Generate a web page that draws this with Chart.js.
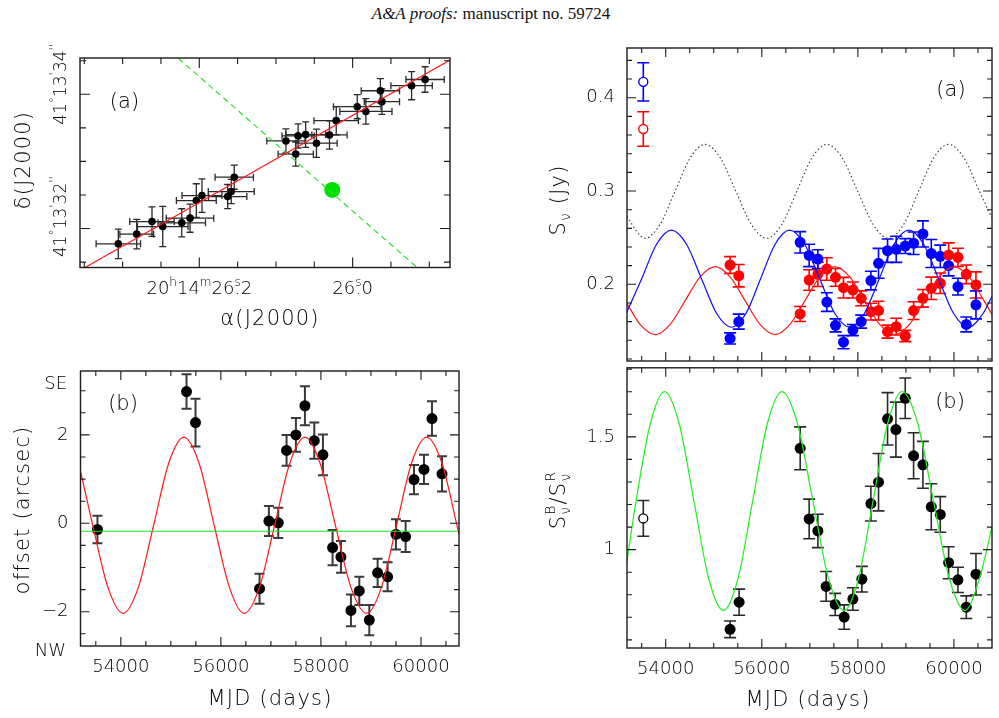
<!DOCTYPE html>
<html>
<head>
<meta charset="utf-8">
<script src="https://cdn.jsdelivr.net/npm/chart.js@4.4.1/dist/chart.umd.min.js"></script>
<style>
  html, body { margin: 0; padding: 0; background: #fff; }
  #page { position: relative; width: 999px; height: 718px; overflow: hidden; background: #fff; }
  #page canvas { position: absolute; }
  #hdr { position: absolute; left: 0; top: 4px; width: 982px; text-align: center;
         font: 17px "Liberation Serif", serif; color: #111; }
</style>
</head>
<body>
<div id="page">
  <div id="hdr"><i>A&amp;A proofs:</i> manuscript no. 59724</div>
  <canvas id="sky" width="460" height="300" style="left:0;top:40px"></canvas>
  <canvas id="offs" width="470" height="358" style="left:0;top:360px"></canvas>
  <canvas id="flux" width="459" height="330" style="left:540px;top:40px"></canvas>
  <canvas id="ratio" width="459" height="356" style="left:540px;top:362px"></canvas>
</div>
<script>
/* ---------------------------------------------------------
   Data
--------------------------------------------------------- */

// top-left: positions on the sky (RA seconds past 20h14m, Dec arcsec past 41°13')
const raSec = [26.3056, 26.2816, 26.2617, 26.2477, 26.2229, 26.2121, 26.2039, 26.1965, 26.1630, 26.1583, 26.1544, 26.0870,
               26.0742, 26.0711, 26.0613, 26.0472, 26.0302, 26.0214, 25.9940, 25.9827, 25.9638, 25.9618, 25.9231, 25.9055];
const raErr = [0.029, 0.022, 0.029, 0.033, 0.031, 0.031, 0.026, 0.026, 0.025, 0.030, 0.025, 0.025,
               0.023, 0.021, 0.026, 0.027, 0.023, 0.029, 0.031, 0.034, 0.025, 0.023, 0.027, 0.025];
const decSec = [31.772, 31.917, 32.104, 32.030, 32.085, 32.155, 32.417, 32.491, 32.476, 32.551, 32.765, 33.305,
                33.109, 33.380, 33.399, 33.271, 33.394, 33.607, 33.815, 33.744, 34.052, 33.890, 34.128, 34.220];
const decErr = [0.22, 0.22, 0.22, 0.30, 0.21, 0.21, 0.25, 0.25, 0.18, 0.18, 0.18, 0.18,
                0.18, 0.18, 0.19, 0.21, 0.21, 0.21, 0.18, 0.19, 0.18, 0.19, 0.21, 0.19];
const fitRa = [26.349, 25.873], fitDec = [31.42, 34.51];
const perpRa = [26.2274, 25.9153], perpDec = [34.536, 31.414];
const centreRa = [26.0266], centreDec = [32.576];

// bottom-left: offset along the jet
const offMjd = [53533, 55313, 55493, 56773, 56960, 57147, 57313, 57500, 57680, 57867, 58040, 58233,
                58400, 58600, 58767, 58967, 59133, 59333, 59500, 59693, 59860, 60060, 60220, 60420];
const offVal = [-0.14, 2.98, 2.28, -1.48, 0.05, 0.01, 1.65, 2.00, 2.66, 1.87, 1.55, -0.55,
                -0.76, -1.97, -1.53, -2.19, -1.12, -1.21, -0.25, -0.30, 0.99, 1.22, 2.37, 1.12];
const offErr = [0.31, 0.39, 0.54, 0.34, 0.34, 0.34, 0.35, 0.38, 0.44, 0.41, 0.46, 0.40,
                0.36, 0.36, 0.32, 0.34, 0.32, 0.33, 0.34, 0.35, 0.33, 0.33, 0.39, 0.40];
const offModelMjd = [53200, 53440, 53743, 54047, 54350, 54654, 54957, 55260, 55564, 55867, 56170, 56467, 56770, 57073,
                     57377, 57680, 57983, 58290, 58600, 58913, 59210, 59510, 59810, 60113, 60420, 60720, 60760];
const offModelVal = [1.15, -0.05, -1.45, -2.04, -1.45, -0.05, 1.36, 1.95, 1.36, -0.05, -1.45, -2.04, -1.45, -0.05,
                     1.36, 1.95, 1.36, -0.05, -1.45, -2.04, -1.45, -0.05, 1.36, 1.95, 1.36, -0.05, -0.25];
const offZero = [-0.18, -0.18];

// right: flux densities of the two components and their ratio
const fluxMjd = [55340, 55521, 56798, 56986, 57167, 57354, 57535, 57701, 57896, 58069, 58271, 58430,
                 58618, 58798, 58986, 59160, 59354, 59528, 59715, 59889, 60083, 60257, 60458];
const blueFlux = [0.142, 0.160, 0.245, 0.231, 0.227, 0.181, 0.156, 0.138, 0.151, 0.160, 0.204, 0.2225,
                  0.236, 0.2375, 0.241, 0.244, 0.254, 0.233, 0.230, 0.220, 0.1975, 0.157, 0.178];
const blueErr = [0.006, 0.008, 0.0115, 0.012, 0.010, 0.010, 0.007, 0.007, 0.006, 0.007, 0.010, 0.016,
                 0.0125, 0.014, 0.008, 0.012, 0.014, 0.015, 0.012, 0.011, 0.009, 0.008, 0.015];
const redFlux = [0.2207, 0.2093, 0.1682, 0.2046, 0.2107, 0.2164, 0.2075, 0.1964, 0.1939, 0.185, 0.1707, 0.1718,
                 0.1493, 0.1546, 0.1446, 0.1718, 0.185, 0.1957, 0.2011, 0.2314, 0.2289, 0.2107, 0.1993];
const redErr = [0.009, 0.012, 0.008, 0.011, 0.013, 0.012, 0.0095, 0.011, 0.0085, 0.008, 0.009, 0.010,
                0.007, 0.009, 0.006, 0.0095, 0.0095, 0.012, 0.011, 0.013, 0.0098, 0.010, 0.014];
const earlyMjd = [53533];
const earlyBlue = [0.417], earlyBlueErr = [0.0205];
const earlyRed = [0.3665], earlyRedErr = [0.0185];

const blueModelMjd = [53188, 53500, 53810, 54120, 54432, 54745, 55057, 55370, 55672, 55975, 56277, 56580, 56892,
                      57205, 57517, 57830, 58137, 58445, 58752, 59060, 59370, 59680, 59990, 60300, 60610, 60792];
const blueModelVal = [0.170, 0.206, 0.243, 0.258, 0.243, 0.206, 0.169, 0.154, 0.169, 0.206, 0.243, 0.258, 0.243,
                      0.206, 0.169, 0.154, 0.169, 0.206, 0.243, 0.258, 0.243, 0.206, 0.169, 0.154, 0.169, 0.187];
const redModelMjd = [53188, 53468, 53780, 54092, 54405, 54717, 55030, 55341, 55652, 55964, 56275, 56586, 56898,
                     57209, 57520, 57831, 58142, 58454, 58765, 59074, 59383, 59691, 60000, 60312, 60624, 60792];
const redModelVal = [0.180, 0.157, 0.146, 0.157, 0.1825, 0.208, 0.219, 0.208, 0.1825, 0.157, 0.146, 0.157, 0.1825,
                     0.208, 0.219, 0.208, 0.1825, 0.157, 0.146, 0.157, 0.1825, 0.208, 0.219, 0.208, 0.1825, 0.168];
const sumModelMjd = [53188, 53569, 53881, 54194, 54506, 54819, 55140, 55461, 55783, 56104, 56416, 56729, 57041,
                     57354, 57675, 57996, 58318, 58639, 58951, 59264, 59576, 59889, 60210, 60531, 60792];
const sumModelVal = [0.2725, 0.2493, 0.2641, 0.2997, 0.3353, 0.350, 0.3353, 0.2997, 0.2641, 0.2493, 0.2641, 0.2997,
                     0.3353, 0.350, 0.3353, 0.2997, 0.2641, 0.2493, 0.2641, 0.2997, 0.3353, 0.350, 0.3353, 0.2997, 0.271];

const ratioMjd = [55340, 55528, 56799, 56986, 57167, 57340, 57528, 57715, 57896, 58083, 58271, 58430,
                  58618, 58792, 58986, 59160, 59354, 59528, 59715, 59889, 60083, 60257, 60458];
const ratioVal = [0.647, 0.767, 1.449, 1.136, 1.083, 0.837, 0.757, 0.701, 0.781, 0.869, 1.204, 1.299,
                  1.580, 1.532, 1.671, 1.416, 1.376, 1.190, 1.156, 0.942, 0.866, 0.745, 0.891];
const ratioErr = [0.037, 0.058, 0.095, 0.088, 0.074, 0.066, 0.049, 0.054, 0.050, 0.057, 0.077, 0.127,
                  0.116, 0.122, 0.090, 0.102, 0.104, 0.102, 0.079, 0.071, 0.056, 0.050, 0.092];
const earlyRatio = [1.1385], earlyRatioErr = [0.079];
const ratioModelMjd = [53188, 53382, 53680, 53975, 54281, 54588, 54894, 55200, 55505, 55810, 56115, 56420, 56743,
                       57065, 57388, 57710, 58013, 58315, 58618, 58920, 59248, 59575, 59903, 60230, 60530, 60792];
const ratioModelVal = [0.94, 1.215, 1.558, 1.70, 1.558, 1.215, 0.872, 0.73, 0.872, 1.215, 1.558, 1.70, 1.558,
                       1.215, 0.872, 0.73, 0.872, 1.215, 1.558, 1.70, 1.558, 1.215, 0.872, 0.73, 0.872, 1.10];

// tick labels
const mjdTicks = [54000, 56000, 58000, 60000];
const mjdTickLabels = ["54000", "56000", "58000", "60000"];
const offTicks = [-2, 0, 2];
const offTickLabels = ["\u22122", "0", "2"];
const fluxTicks = [0.2, 0.3, 0.4];
const fluxTickLabels = ["0.2", "0.3", "0.4"];
const ratioTicks = [1, 1.5];
const ratioTickLabels = ["1", "1.5"];
const raTicks = [26.2, 26.0];
const decTicks = [34, 32];

/* ---------------------------------------------------------
   Helpers
--------------------------------------------------------- */
const FONT = '"DejaVu Sans ExtraLight", "DejaVu Sans", sans-serif';
const WEIGHT = "200";
const INK = "#1c1c1c";
const TEXT = "#000";

const zip = (xs, ys) => xs.map((x, i) => ({ x, y: ys[i] }));
const steps = (a, b, step) => {
  const out = [];
  for (let v = a; v <= b + step * 1e-6; v += step) out.push(+v.toFixed(6));
  return out;
};
const labelMap = (vals, labels) => Object.fromEntries(vals.map((v, i) => [v, labels[i]]));
const isMajor = (list, v) => list.some((m) => Math.abs(m - v) < 1e-6);

function axis({ min, max, minor, size, labels, pad, reverse }) {
  return {
    type: "linear", min, max, reverse: !!reverse,
    grid: { display: false, drawTicks: false },
    border: { display: false },
    ticks: {
      display: !!labels, padding: pad || 10, color: TEXT,
      font: { family: FONT, size: 18, weight: WEIGHT }, autoSkip: false, maxRotation: 0, minRotation: 0,
      callback: (v) => (labels && labels[v] !== undefined ? labels[v] : ""),
    },
    afterBuildTicks: (s) => { s.ticks = minor.map((value) => ({ value })); },
    afterFit: (s) => {
      if (s.isHorizontal()) s.height = size; else s.width = size;
      s.paddingTop = s.paddingBottom = s.paddingLeft = s.paddingRight = 0;
    },
  };
}

function drawRich(ctx, parts, x, y, size, rot, align, spacing) {
  ctx.save();
  ctx.translate(x, y);
  ctx.rotate(rot);
  ctx.fillStyle = TEXT;
  ctx.textBaseline = "alphabetic";
  ctx.textAlign = "left";
  if ("letterSpacing" in ctx) ctx.letterSpacing = spacing + "px";
  const big = `${WEIGHT} ${size}px ${FONT}`;
  const sm = `${WEIGHT} ${Math.round(size * 0.68)}px ${FONT}`;
  const widthOf = (txt, f) => { if (!txt) return 0; ctx.font = f; return ctx.measureText(txt).width; };
  const boxes = parts.map((p) => Math.max(widthOf(p.t, big), widthOf(p.sup, sm), widthOf(p.sub, sm)));
  const total = boxes.reduce((s, w) => s + w, 0);
  let cx = align === "right" ? -total : align === "left" ? 0 : -total / 2;
  const base = size * 0.36;
  parts.forEach((p, i) => {
    if (p.t) { ctx.font = big; ctx.fillText(p.t, cx + (boxes[i] - widthOf(p.t, big)) / 2, base); }
    if (p.sup) { ctx.font = sm; ctx.fillText(p.sup, cx + (boxes[i] - widthOf(p.sup, sm)) / 2, base - size * 0.45); }
    if (p.sub) { ctx.font = sm; ctx.fillText(p.sub, cx, base + size * 0.27); }
    cx += boxes[i];
  });
  ctx.restore();
}

// frame box with inward ticks on all four sides
const frame = (xMajor, yMajor, majLen, minLen) => ({
  id: "frame",
  afterDatasetsDraw(chart) {
    const { ctx, chartArea: a } = chart;
    const xs = chart.scales.x, ys = chart.scales.y;
    ctx.save();
    ctx.strokeStyle = INK;
    ctx.lineWidth = 1.4;
    ctx.strokeRect(a.left, a.top, a.right - a.left, a.bottom - a.top);
    ctx.lineWidth = 1.1;
    ctx.beginPath();
    xs.ticks.forEach((t) => {
      const px = xs.getPixelForValue(t.value);
      const L = isMajor(xMajor, t.value) ? majLen : minLen;
      ctx.moveTo(px, a.bottom); ctx.lineTo(px, a.bottom - L);
      ctx.moveTo(px, a.top); ctx.lineTo(px, a.top + L);
    });
    ys.ticks.forEach((t) => {
      const py = ys.getPixelForValue(t.value);
      const L = isMajor(yMajor, t.value) ? majLen : minLen;
      ctx.moveTo(a.left, py); ctx.lineTo(a.left + L, py);
      ctx.moveTo(a.right, py); ctx.lineTo(a.right - L, py);
    });
    ctx.stroke();
    ctx.restore();
  },
});

// error bars drawn under the markers
const errorBars = {
  id: "errorBars",
  beforeDatasetsDraw(chart) {
    const { ctx } = chart;
    const xs = chart.scales.x, ys = chart.scales.y;
    chart.data.datasets.forEach((ds) => {
      if (!ds.errY && !ds.errX) return;
      const c = ds.cap || 5;
      ctx.save();
      ctx.lineWidth = ds.errWidth || 1.5;
      ds.data.forEach((p, i) => {
        const px = xs.getPixelForValue(p.x), py = ys.getPixelForValue(p.y);
        ctx.strokeStyle = ds.errColor;
        ctx.beginPath();
        if (ds.errY) {
          const y1 = ys.getPixelForValue(p.y + ds.errY[i]), y2 = ys.getPixelForValue(p.y - ds.errY[i]);
          ctx.moveTo(px, y1); ctx.lineTo(px, y2);
          ctx.moveTo(px - c, y1); ctx.lineTo(px + c, y1);
          ctx.moveTo(px - c, y2); ctx.lineTo(px + c, y2);
        }
        if (ds.errX) {
          const x1 = xs.getPixelForValue(p.x + ds.errX[i]), x2 = xs.getPixelForValue(p.x - ds.errX[i]);
          ctx.moveTo(x1, py); ctx.lineTo(x2, py);
          ctx.moveTo(x1, py - c); ctx.lineTo(x1, py + c);
          ctx.moveTo(x2, py - c); ctx.lineTo(x2, py + c);
        }
        ctx.stroke();
      });
      ctx.restore();
    });
  },
};

const notes = (items) => ({
  id: "notes",
  afterDraw(chart) {
    items.forEach((it) => {
      const x = typeof it.x === "function" ? it.x(chart) : it.x;
      const y = typeof it.y === "function" ? it.y(chart) : it.y;
      drawRich(chart.ctx, it.parts, x, y, it.size || 21, it.rot || 0, it.align || "center", it.spacing || 0);
    });
  },
});

const baseOptions = (padding, scales) => ({
  responsive: false,
  animation: false,
  layout: { padding },
  plugins: { legend: { display: false }, tooltip: { enabled: false } },
  scales,
});

const curve = (data, color, extra) => Object.assign({
  data, showLine: true, borderColor: color, borderWidth: 1.2, pointRadius: 0,
  cubicInterpolationMode: "monotone", fill: false,
}, extra || {});

const ROT = -Math.PI / 2;
const TITLE = { size: 21, spacing: 1.2 };

/* ---------------------------------------------------------
   Top-left: sky positions
--------------------------------------------------------- */
const raLabels = [
  [{ t: "20" }, { sup: "h" }, { t: "14" }, { sup: "m" }, { t: "26" }, { t: ".", sup: "s" }, { t: "2" }],
  [{ t: "26" }, { t: ".", sup: "s" }, { t: "0" }],
];
const decLabels = [
  [{ t: "41" }, { sup: "\u00b0" }, { t: "13" }, { sup: "'" }, { t: "34" }, { sup: "''" }],
  [{ t: "41" }, { sup: "\u00b0" }, { t: "13" }, { sup: "'" }, { t: "32" }, { sup: "''" }],
];

new Chart(document.getElementById("sky"), {
  type: "scatter",
  data: {
    datasets: [
      curve(zip(fitRa, fitDec), "#ff1a1a", { cubicInterpolationMode: "default" }),
      curve(zip(perpRa, perpDec), "#33dd33", { borderDash: [6, 4], cubicInterpolationMode: "default" }),
      { data: zip(raSec, decSec), errX: raErr, errY: decErr, errColor: "#2a2a2a", errWidth: 1.3, cap: 3.5,
        pointRadius: 3.8, backgroundColor: "#000", borderWidth: 0 },
      { data: zip(centreRa, centreDec), pointRadius: 8, backgroundColor: "#00e000", borderWidth: 0 },
    ],
  },
  options: baseOptions({ top: 18, right: 10, left: 0, bottom: 0 }, {
    x: axis({ min: 25.873, max: 26.3556, reverse: true, minor: steps(25.9, 26.35, 0.05), size: 72.5 }),
    y: axis({ min: 31.42, max: 34.54, minor: steps(31.5, 34.5, 0.5), size: 80 }),
  }),
  plugins: [
    errorBars,
    frame(raTicks, decTicks, 10, 6),
    notes([
      { parts: [{ t: "(a)" }], x: 124.5, y: 60, size: 21 },
      { parts: [{ t: "\u03b4(J2000)" }], x: 22, y: 120, rot: ROT, ...TITLE },
      { parts: [{ t: "\u03b1(J2000)" }], x: 270, y: 277, ...TITLE },
      { parts: raLabels[0], x: (c) => c.scales.x.getPixelForValue(raTicks[0]), y: 248, size: 18 },
      { parts: raLabels[1], x: (c) => c.scales.x.getPixelForValue(raTicks[1]), y: 248, size: 18 },
      { parts: decLabels[0], x: 60, y: (c) => c.scales.y.getPixelForValue(decTicks[0]) - 10, rot: ROT, size: 17 },
      { parts: decLabels[1], x: 60, y: (c) => c.scales.y.getPixelForValue(decTicks[1]) - 12, rot: ROT, size: 17 },
    ]),
  ],
});

/* ---------------------------------------------------------
   Bottom-left: offset vs. time
--------------------------------------------------------- */
new Chart(document.getElementById("offs"), {
  type: "scatter",
  data: {
    datasets: [
      curve(zip([53194, 60760], offZero), "#22dd22", { cubicInterpolationMode: "default" }),
      curve(zip(offModelMjd, offModelVal), "#ff1a1a"),
      { data: zip(offMjd, offVal), errY: offErr, errColor: "#3a3a3a", errWidth: 2, cap: 5,
        pointRadius: 5.5, backgroundColor: "#000", borderWidth: 0 },
    ],
  },
  options: baseOptions({ top: 11, right: 11, left: 0, bottom: 0 }, {
    x: axis({ min: 53194, max: 60760, minor: steps(53500, 60500, 500), size: 72, pad: 11,
              labels: labelMap(mjdTicks, mjdTickLabels) }),
    y: axis({ min: -2.776, max: 3.446, minor: steps(-2.5, 3.0, 0.5), size: 80.5, pad: 12,
              labels: labelMap(offTicks, offTickLabels) }),
  }),
  plugins: [
    errorBars,
    frame(mjdTicks, offTicks, 9, 5),
    notes([
      { parts: [{ t: "(b)" }], x: 123, y: 42, size: 21 },
      { parts: [{ t: "offset (arcsec)" }], x: 21, y: 150, rot: ROT, ...TITLE },
      { parts: [{ t: "MJD (days)" }], x: 270, y: 337, ...TITLE },
      { parts: [{ t: "SE" }], x: 67, y: 23, size: 18, align: "right" },
      { parts: [{ t: "NW" }], x: 66, y: 290, size: 18, align: "right" },
    ]),
  ],
});

/* ---------------------------------------------------------
   Top-right: flux densities
--------------------------------------------------------- */
new Chart(document.getElementById("flux"), {
  type: "scatter",
  data: {
    datasets: [
      curve(zip(sumModelMjd, sumModelVal), "#333", { borderDash: [1.5, 2.5], borderWidth: 1.1 }),
      curve(zip(blueModelMjd, blueModelVal), "#0a0aff"),
      curve(zip(redModelMjd, redModelVal), "#ff1a1a"),
      { data: zip(fluxMjd, redFlux), errY: redErr, errColor: "#ff0000", errWidth: 1.6, cap: 6,
        pointRadius: 5.5, backgroundColor: "#ff0000", borderWidth: 0 },
      { data: zip(fluxMjd, blueFlux), errY: blueErr, errColor: "#0000ff", errWidth: 1.6, cap: 6,
        pointRadius: 5.5, backgroundColor: "#0000ff", borderWidth: 0 },
      { data: zip(earlyMjd, earlyBlue), errY: earlyBlueErr, errColor: "#0000ff", errWidth: 1.6, cap: 6,
        pointRadius: 4.5, backgroundColor: "#fff", borderColor: "#0000ff", borderWidth: 1.4 },
      { data: zip(earlyMjd, earlyRed), errY: earlyRedErr, errColor: "#ff0000", errWidth: 1.6, cap: 6,
        pointRadius: 4.5, backgroundColor: "#fff", borderColor: "#ff0000", borderWidth: 1.4 },
    ],
  },
  options: baseOptions({ top: 8, right: 7, left: 0, bottom: 0 }, {
    x: axis({ min: 53194, max: 60792, minor: steps(53500, 60500, 500), size: 9 }),
    y: axis({ min: 0.1178, max: 0.4533, minor: steps(0.12, 0.44, 0.02), size: 87, pad: 12,
              labels: labelMap(fluxTicks, fluxTickLabels) }),
  }),
  plugins: [
    errorBars,
    frame(mjdTicks, fluxTicks, 9, 5),
    notes([
      { parts: [{ t: "(a)" }], x: 411, y: 48, size: 21 },
      { parts: [{ t: "S" }, { sub: "\u03bd" }, { t: " (Jy)" }], x: 17, y: 160, rot: ROT, ...TITLE },
    ]),
  ],
});

/* ---------------------------------------------------------
   Bottom-right: flux ratio
--------------------------------------------------------- */
new Chart(document.getElementById("ratio"), {
  type: "scatter",
  data: {
    datasets: [
      curve(zip(ratioModelMjd, ratioModelVal), "#22ee22"),
      { data: zip(ratioMjd, ratioVal), errY: ratioErr, errColor: "#2a2a2a", errWidth: 1.6, cap: 6,
        pointRadius: 5.5, backgroundColor: "#000", borderWidth: 0 },
      { data: zip(earlyMjd, earlyRatio), errY: earlyRatioErr, errColor: "#2a2a2a", errWidth: 1.6, cap: 6,
        pointRadius: 4.5, backgroundColor: "#fff", borderColor: "#000", borderWidth: 1.3 },
    ],
  },
  options: baseOptions({ top: 2, right: 7, left: 0, bottom: 0 }, {
    x: axis({ min: 53194, max: 60792, minor: steps(53500, 60500, 500), size: 70, pad: 11,
              labels: labelMap(mjdTicks, mjdTickLabels) }),
    y: axis({ min: 0.564, max: 1.806, minor: steps(0.6, 1.8, 0.1), size: 87, pad: 12,
              labels: labelMap(ratioTicks, ratioTickLabels) }),
  }),
  plugins: [
    errorBars,
    frame(mjdTicks, ratioTicks, 9, 5),
    notes([
      { parts: [{ t: "(b)" }], x: 410, y: 38, size: 21 },
      { parts: [{ t: "S" }, { sup: "B", sub: "\u03bd" }, { t: "/S" }, { sup: "R", sub: "\u03bd" }],
        x: 17, y: 138, rot: ROT, ...TITLE },
      { parts: [{ t: "MJD (days)" }], x: 268, y: 336, ...TITLE },
    ]),
  ],
});
</script>
</body>
</html>
